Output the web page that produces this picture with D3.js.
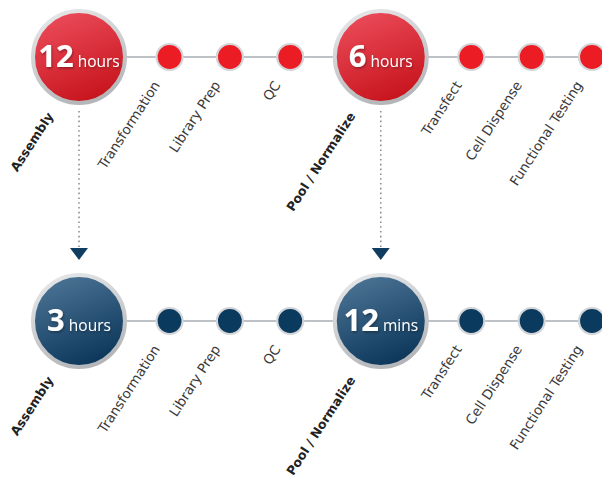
<!DOCTYPE html>
<html lang="en">
	<head>
		<meta charset="utf-8">
		<title>Workflow time: before / after</title>
		<script src="https://cdnjs.cloudflare.com/ajax/libs/d3/7.8.5/d3.min.js"></script>
		<style type="text/css">
			body { margin: 0; background: #fff; }
			text { font-family: "Open Sans", "DejaVu Sans", sans-serif; }
			.stage { fill: #3a3a3a; font-size: 13.5px; font-family: "DejaVu Sans", sans-serif; }
			.stage.major { fill: #222; font-weight: bold; font-size: 12.5px; }
		</style>
	</head>
	<body>
		<div id="container"></div>
		<script type="text/javascript">

			// stages along each row (slot = horizontal position unit)
			var stages = ["Assembly", "Transformation", "Library Prep", "QC", "Pool / Normalize", "Transfect", "Cell Dispense", "Functional Testing"];
			var slots = [0, 1.5, 2.5, 3.5, 5, 6.5, 7.5, 8.5];
			var majorStages = ["Assembly", "Pool / Normalize"];

			// the two rows and the time shown in each big circle
			var rows = ["before", "after"];
			var rowColor = ["red", "blue"];
			var times = {
				before: [{ value: "12", unit: "hours" }, { value: "6", unit: "hours" }],
				after: [{ value: "3", unit: "hours" }, { value: "12", unit: "mins" }]
			};

			var width = 602;
			var height = 478;

			var svg = d3.select("div#container")
				.append("svg")
				.attr("width", width)
				.attr("height", height);

			var x = d3.scaleLinear()
				.domain([0, 8.5])
				.range([79, 592]);

			var y = d3.scalePoint()
				.domain(rows)
				.range([57, 321]);

			var bigR = 46, smallR = 13;

			// gradients
			var defs = svg.append("defs");
			function grad(id, c0, c1) {
				var g = defs.append("linearGradient").attr("id", id)
					.attr("x1", "0.2").attr("y1", "0").attr("x2", "0.6").attr("y2", "1");
				g.append("stop").attr("offset", "0%").attr("stop-color", c0);
				g.append("stop").attr("offset", "100%").attr("stop-color", c1);
			}
			grad("bigred", "#ec4d5c", "#c7141c");
			grad("bigblue", "#4d7596", "#0b365a");
			grad("ring", "#e6e7e9", "#b3b5b8");

			var shadow = defs.append("filter").attr("id", "txtshadow")
				.attr("x", "-20%").attr("y", "-20%").attr("width", "140%").attr("height", "140%");
			shadow.append("feDropShadow").attr("dx", 1).attr("dy", 1.5)
				.attr("stdDeviation", 1).attr("flood-color", "#000").attr("flood-opacity", 0.35);

			var fill = {
				red: { big: "url(#bigred)", small: "#ec1c24" },
				blue: { big: "url(#bigblue)", small: "#0b3a5f" }
			};

			// dotted arrows from row 1 to row 2 at each major stage
			var majorX = majorStages.map(function(s) { return x(slots[stages.indexOf(s)]); });
			var arrows = svg.append("g").attr("class", "arrows");
			arrows.selectAll("line")
				.data(majorX)
				.enter().append("line")
					.attr("x1", function(d) { return d; })
					.attr("x2", function(d) { return d; })
					.attr("y1", y("before") + bigR + 8)
					.attr("y2", y("after") - bigR - 28)
					.attr("stroke", "#8b9097")
					.attr("stroke-width", 1.6)
					.attr("stroke-dasharray", "1.6,3.2");
			arrows.selectAll("path")
				.data(majorX)
				.enter().append("path")
					.attr("d", function(d) {
						var t = y("after") - bigR - 27;
						return "M" + (d - 9) + "," + t + "L" + (d + 9) + "," + t + "L" + d + "," + (t + 12) + "Z";
					})
					.attr("fill", "#0f3d62");

			rows.forEach(function(row, ri) {
				var cy = y(row);
				var col = fill[rowColor[ri]];
				var g = svg.append("g").attr("class", "row " + row);

				g.append("line")
					.attr("x1", x(0))
					.attr("x2", width + 20)
					.attr("y1", cy).attr("y2", cy)
					.attr("stroke", "#a9aeb4")
					.attr("stroke-width", 1.5);

				var nodes = stages.map(function(s, i) {
					return { name: s, x: x(slots[i]), major: majorStages.indexOf(s) >= 0 };
				});
				var mi = 0;
				nodes.forEach(function(d) { if (d.major) d.time = times[row][mi++]; });

				var node = g.selectAll("g.node")
					.data(nodes)
					.enter().append("g")
						.attr("class", "node")
						.attr("transform", function(d) { return "translate(" + d.x + "," + cy + ")"; });

				node.append("circle")
					.attr("r", function(d) { return d.major ? bigR : smallR; })
					.attr("fill", function(d) { return d.major ? col.big : col.small; })
					.attr("stroke", function(d) { return d.major ? "url(#ring)" : "#d3d5d8"; })
					.attr("stroke-width", function(d) { return d.major ? 4 : 2.2; });

				var t = node.filter(function(d) { return d.major; })
					.append("text")
						.attr("text-anchor", "middle")
						.attr("y", 10)
						.attr("fill", "#fff")
						.attr("filter", "url(#txtshadow)");
				t.append("tspan")
					.attr("font-weight", "bold")
					.attr("font-size", 31)
					.text(function(d) { return d.time.value; });
				t.append("tspan")
					.attr("dx", 4)
					.attr("font-size", 15.5)
					.text(function(d) { return d.time.unit; });

				// rotated stage labels
				node.append("text")
					.attr("class", function(d) { return d.major ? "stage major" : "stage"; })
					.attr("text-anchor", "end")
					.attr("transform", function(d) {
						return d.major ? "translate(-25,59) rotate(-57)" : "translate(-9,28) rotate(-57)";
					})
					.text(function(d) { return d.name; });
			});
		</script>
	</body>
</html>
